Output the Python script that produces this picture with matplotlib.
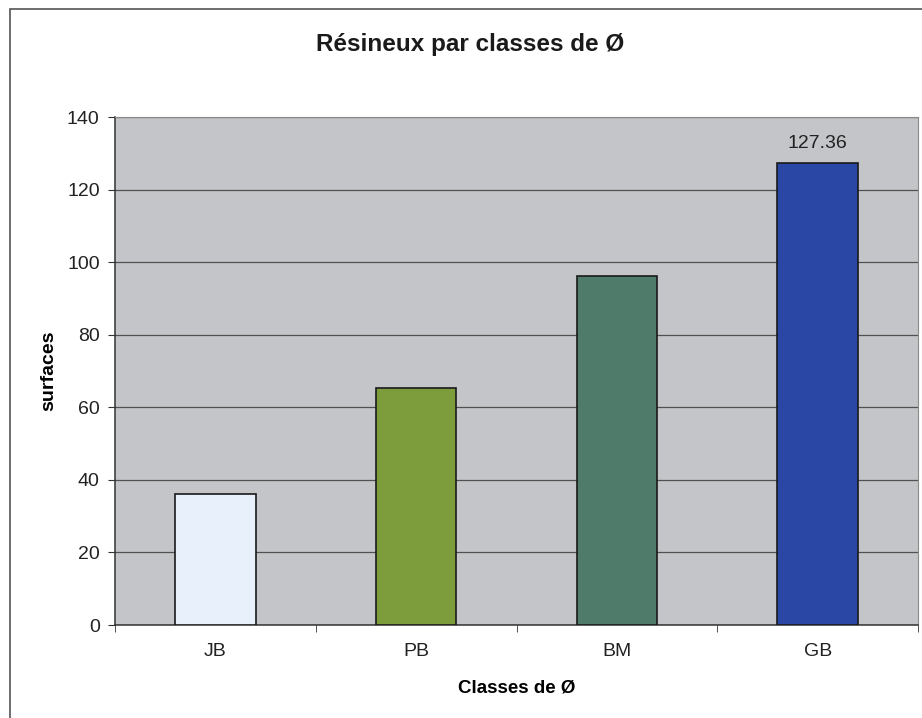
import numpy as np
import matplotlib.pyplot as plt
from matplotlib.patches import Rectangle

plt.rcParams["font.family"] = ["Liberation Sans", "DejaVu Sans"]

categories = ["JB", "PB", "BM", "GB"]
values = [36.1, 65.3, 96.1, 127.36]
colors = ["#e8f1fb", "#7d9c3c", "#4f7c6a", "#2b47a6"]

fig = plt.figure(figsize = (9.22, 7.18), dpi = 100)
fig.patch.set_facecolor("white")

# outer chart frame (left and top edges visible in the scan)
fig.add_artist(Rectangle((10 / 922, -0.1), 1.2, 1 - 9 / 718 + 0.1,
    transform = fig.transFigure, fill = False, edgecolor = "#555555", linewidth = 1.2))

ax = fig.add_axes([115 / 922, 1 - 625 / 718, (918 - 115) / 922, (625 - 117) / 718])
ax.set_facecolor("#c4c5c8")

x = np.arange(len(categories))
ax.bar(x, values, width = 0.4, color = colors, edgecolor = "#1a1a1a", linewidth = 1.2, zorder = 3)

ax.set_xlim(-0.5, len(categories) - 0.5)
ax.set_ylim(0, 140)
ax.set_yticks(np.arange(0, 141, 20))
ax.set_xticks(x)
ax.set_xticklabels(categories)
ax.set_xticks(np.arange(-0.5, len(categories)), minor = True)

ax.grid(axis = "y", color = "#505050", linewidth = 0.9, zorder = 1)
ax.tick_params(axis = "x", which = "major", length = 0, pad = 13, labelsize = 14, colors = "#222222")
ax.tick_params(axis = "x", which = "minor", length = 5, direction = "out", color = "#333333")
ax.tick_params(axis = "y", length = 5, direction = "out", pad = 6, labelsize = 14,
    colors = "#222222", color = "#333333")

for side in ["left", "bottom"]:
    ax.spines[side].set_color("#333333")
    ax.spines[side].set_linewidth(1.1)
ax.spines["top"].set_color("#8a8a8a")
ax.spines["right"].set_color("#8a8a8a")

ax.annotate(f"{values[-1]:.2f}", (x[-1], values[-1]), xytext = (0, 8),
    textcoords = "offset points", ha = "center", va = "bottom", fontsize = 14, color = "#222222")

ax.set_xlabel("Classes de Ø", fontsize = 13.5, fontweight = "bold", labelpad = 14)
ax.set_ylabel("surfaces", fontsize = 14, fontweight = "bold", labelpad = 7)
fig.text(470 / 922, 1 - 45 / 718, "Résineux par classes de Ø",
    ha = "center", va = "center", fontsize = 17.5, fontweight = "bold", color = "#1a1a1a")

fig.savefig("out.png", dpi = 100)
